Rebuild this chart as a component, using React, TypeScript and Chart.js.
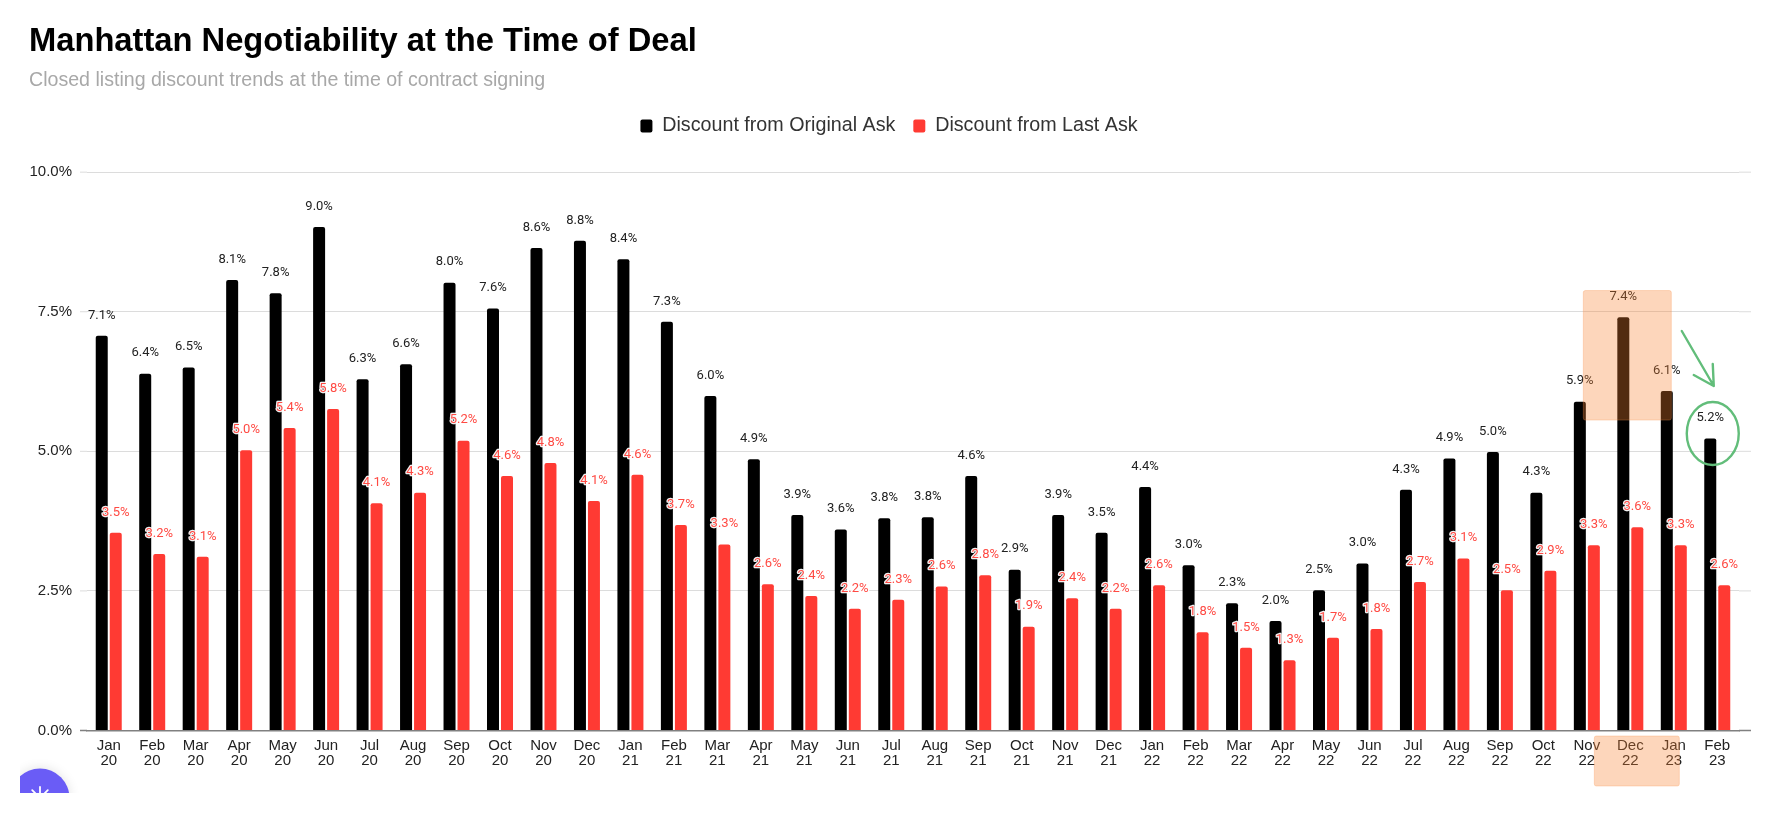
import React, { useEffect, useRef } from "react";
import { Chart, registerables } from "chart.js";

Chart.register(...registerables);

const months = ["Jan", "Feb", "Mar", "Apr", "May", "Jun", "Jul", "Aug", "Sep", "Oct", "Nov", "Dec",
  "Jan", "Feb", "Mar", "Apr", "May", "Jun", "Jul", "Aug", "Sep", "Oct", "Nov", "Dec",
  "Jan", "Feb", "Mar", "Apr", "May", "Jun", "Jul", "Aug", "Sep", "Oct", "Nov", "Dec",
  "Jan", "Feb"];
const years = ["20", "20", "20", "20", "20", "20", "20", "20", "20", "20", "20", "20",
  "21", "21", "21", "21", "21", "21", "21", "21", "21", "21", "21", "21",
  "22", "22", "22", "22", "22", "22", "22", "22", "22", "22", "22", "22",
  "23", "23"];
const originalAsk = [7.07, 6.39, 6.5, 8.07, 7.83, 9.02, 6.29, 6.56, 8.02, 7.56, 8.64, 8.77,
  8.44, 7.32, 5.99, 4.86, 3.86, 3.6, 3.8, 3.82, 4.56, 2.88, 3.86, 3.54,
  4.36, 2.96, 2.28, 1.96, 2.51, 2.99, 4.31, 4.87, 4.99, 4.26, 5.89, 7.4, 6.08, 5.23];
const lastAsk = [3.54, 3.16, 3.11, 5.02, 5.42, 5.76, 4.07, 4.26, 5.19, 4.56, 4.79, 4.11,
  4.58, 3.68, 3.33, 2.62, 2.41, 2.18, 2.34, 2.58, 2.78, 1.86, 2.37, 2.18,
  2.6, 1.76, 1.48, 1.26, 1.66, 1.82, 2.66, 3.08, 2.51, 2.86, 3.32, 3.64, 3.32, 2.6];

const FONT = "'Liberation Sans', Arial, sans-serif";
const LABEL_FONT = "Roboto, 'Liberation Sans', sans-serif";
const GRID = "#dcdcdc";

const extendGrid = {
  id: "extendGrid",
  beforeDatasetsDraw(chart: any) {
    const { ctx, chartArea, scales } = chart;
    ctx.save();
    ctx.lineWidth = 1;
    scales.y.ticks.forEach((t: any) => {
      const y = scales.y.getPixelForValue(t.value);
      ctx.strokeStyle = t.value === 0 ? "#808080" : GRID;
      ctx.lineWidth = t.value === 0 ? 1.5 : 1;
      ctx.beginPath();
      ctx.moveTo(chartArea.left - 7, y);
      ctx.lineTo(chartArea.left, y);
      ctx.moveTo(chartArea.right, y);
      ctx.lineTo(chartArea.right + 12, y);
      ctx.stroke();
    });
    ctx.restore();
  },
};

const shiftLegend = {
  id: "shiftLegend",
  afterLayout(chart: any) {
    const l = chart.legend;
    l.left += 5;
    l.right += 5;
    l.top -= 26.3;
    l.bottom -= 26.3;
  },
};

const barLabels = {
  id: "barLabels",
  afterDatasetsDraw(chart: any) {
    const { ctx } = chart;
    ctx.save();
    ctx.textAlign = "center";
    ctx.textBaseline = "middle";
    ctx.lineJoin = "round";
    chart.data.datasets.forEach((ds: any, di: number) => {
      chart.getDatasetMeta(di).data.forEach((el: any, i: number) => {
        const txt = ds.data[i].toFixed(1) + "%";
        const y = el.y - 20.5;
        ctx.font = "400 13px " + LABEL_FONT;
        if (di === 1) {
          ctx.strokeStyle = "rgba(255,255,255,0.95)";
          ctx.lineWidth = 2.5;
          ctx.strokeText(txt, el.x, y);
          ctx.fillStyle = "#ff4a43";
        } else {
          ctx.fillStyle = "#222222";
        }
        ctx.fillText(txt, el.x, y);
      });
    });
    ctx.restore();
  },
};

const annotations = {
  id: "annotations",
  afterDraw(chart: any) {
    const { ctx, chartArea, scales } = chart;
    const xs = scales.x;
    const ys = scales.y;
    const dec22 = xs.getPixelForValue(35);
    const feb23 = xs.getPixelForValue(37);
    ctx.save();
    // Orange highlight rectangles
    const box = (x: number, y: number, w: number, h: number) => {
      ctx.beginPath();
      ctx.roundRect(x, y, w, h, 2);
      ctx.fillStyle = "rgba(249,130,50,0.33)";
      ctx.fill();
      ctx.strokeStyle = "rgba(249,150,80,0.3)";
      ctx.lineWidth = 1;
      ctx.stroke();
    };
    const top = ys.getPixelForValue(7.88);
    box(dec22 - 47, top, 88, ys.getPixelForValue(5.56) - top);
    box(dec22 - 36, chartArea.bottom + 5.5, 85, 50);

    // Green arrow and circle
    ctx.strokeStyle = "#62bd7a";
    ctx.lineWidth = 2.4;
    ctx.lineCap = "round";
    ctx.lineJoin = "round";
    const ax = feb23 - 3.5;
    const ay = ys.getPixelForValue(6.17);
    ctx.beginPath();
    ctx.moveTo(ax - 32, ay - 55);
    ctx.lineTo(ax, ay);
    ctx.moveTo(ax - 20, ay - 11);
    ctx.lineTo(ax, ay);
    ctx.lineTo(ax - 1, ay - 22);
    ctx.stroke();
    ctx.beginPath();
    ctx.ellipse(feb23 - 4.5, ys.getPixelForValue(5.32), 26, 31.5, 0, 0, Math.PI * 2);
    ctx.stroke();

    // Cropped purple badge at the bottom left
    ctx.save();
    ctx.beginPath();
    ctx.rect(20, 752, 66, 41);
    ctx.clip();
    ctx.shadowColor = "rgba(0,0,0,0.12)";
    ctx.shadowBlur = 12;
    ctx.fillStyle = "#6a5cf6";
    ctx.beginPath();
    ctx.arc(40, 798, 29.5, 0, Math.PI * 2);
    ctx.fill();
    ctx.shadowBlur = 0;
    ctx.strokeStyle = "#ffffff";
    ctx.lineWidth = 1.8;
    for (let i = 0; i < 8; i++) {
      const a = (i * Math.PI) / 4;
      ctx.beginPath();
      ctx.moveTo(40 + 4 * Math.cos(a), 798 + 4 * Math.sin(a));
      ctx.lineTo(40 + 11 * Math.cos(a), 798 + 11 * Math.sin(a));
      ctx.stroke();
    }
    ctx.restore();
    ctx.restore();
  },
};

export default function App() {
  const ref = useRef<HTMLCanvasElement>(null);
  useEffect(() => {
    const chart = new Chart(ref.current as HTMLCanvasElement, {
      type: "bar",
      data: {
        labels: months.map((m, i) => [m, years[i]]),
        datasets: [
          { label: "Discount from Original Ask", data: originalAsk, backgroundColor: "#000000", borderRadius: 2, categoryPercentage: 0.644, barPercentage: 0.857 },
          { label: "Discount from Last Ask", data: lastAsk, backgroundColor: "#ff3a33", borderRadius: 2, categoryPercentage: 0.644, barPercentage: 0.857 },
        ],
      },
      plugins: [extendGrid, shiftLegend, barLabels, annotations],
      options: {
        responsive: false,
        animation: false,
        devicePixelRatio: 1,
        layout: { padding: { left: 29, right: 53, top: 22, bottom: 29.5 } },
        font: { family: FONT },
        plugins: {
          title: {
            display: true,
            text: "Manhattan Negotiability at the Time of Deal",
            align: "start",
            color: "#000000",
            font: { family: FONT, size: 32.7, weight: "bold" },
            padding: { top: 0, bottom: 7.5 },
          },
          subtitle: {
            display: true,
            text: "Closed listing discount trends at the time of contract signing",
            align: "start",
            color: "#a8a8a8",
            font: { family: FONT, size: 19.6, weight: "normal" },
            padding: { top: 0, bottom: 32.2 },
          },
          legend: {
            display: true,
            position: "top",
            labels: {
              boxWidth: 12,
              boxHeight: 13,
              useBorderRadius: true,
              borderRadius: 2,
              padding: 18,
              color: "#333333",
              font: { family: FONT, size: 19.7 },
            },
          },
          tooltip: { enabled: false },
        },
        scales: {
          x: {
            grid: { display: false, drawTicks: false },
            border: { display: true, color: "#808080", width: 1.5 },
            ticks: {
              autoSkip: false,
              maxRotation: 0,
              minRotation: 0,
              padding: 8,
              color: "#222222",
              font: { family: FONT, size: 15, lineHeight: 1.0 },
            },
            afterFit(s: any) { s.height = 60; },
          },
          y: {
            min: 0,
            max: 10,
            grid: { color: GRID, drawTicks: false, lineWidth: 1 },
            border: { display: false },
            ticks: {
              stepSize: 2.5,
              padding: 15,
              color: "#222222",
              font: { family: FONT, size: 15 },
              callback: (v: any) => Number(v).toFixed(1) + "%",
            },
            afterFit(s: any) { s.width = 58; },
          },
        },
      },
    } as any);
    return () => chart.destroy();
  }, []);
  return (
    <canvas
      ref={ref}
      width={1792}
      height={820}
      style={{ position: "absolute", left: 0, top: 0, width: 1792, height: 820, display: "block" }}
    />
  );
}
